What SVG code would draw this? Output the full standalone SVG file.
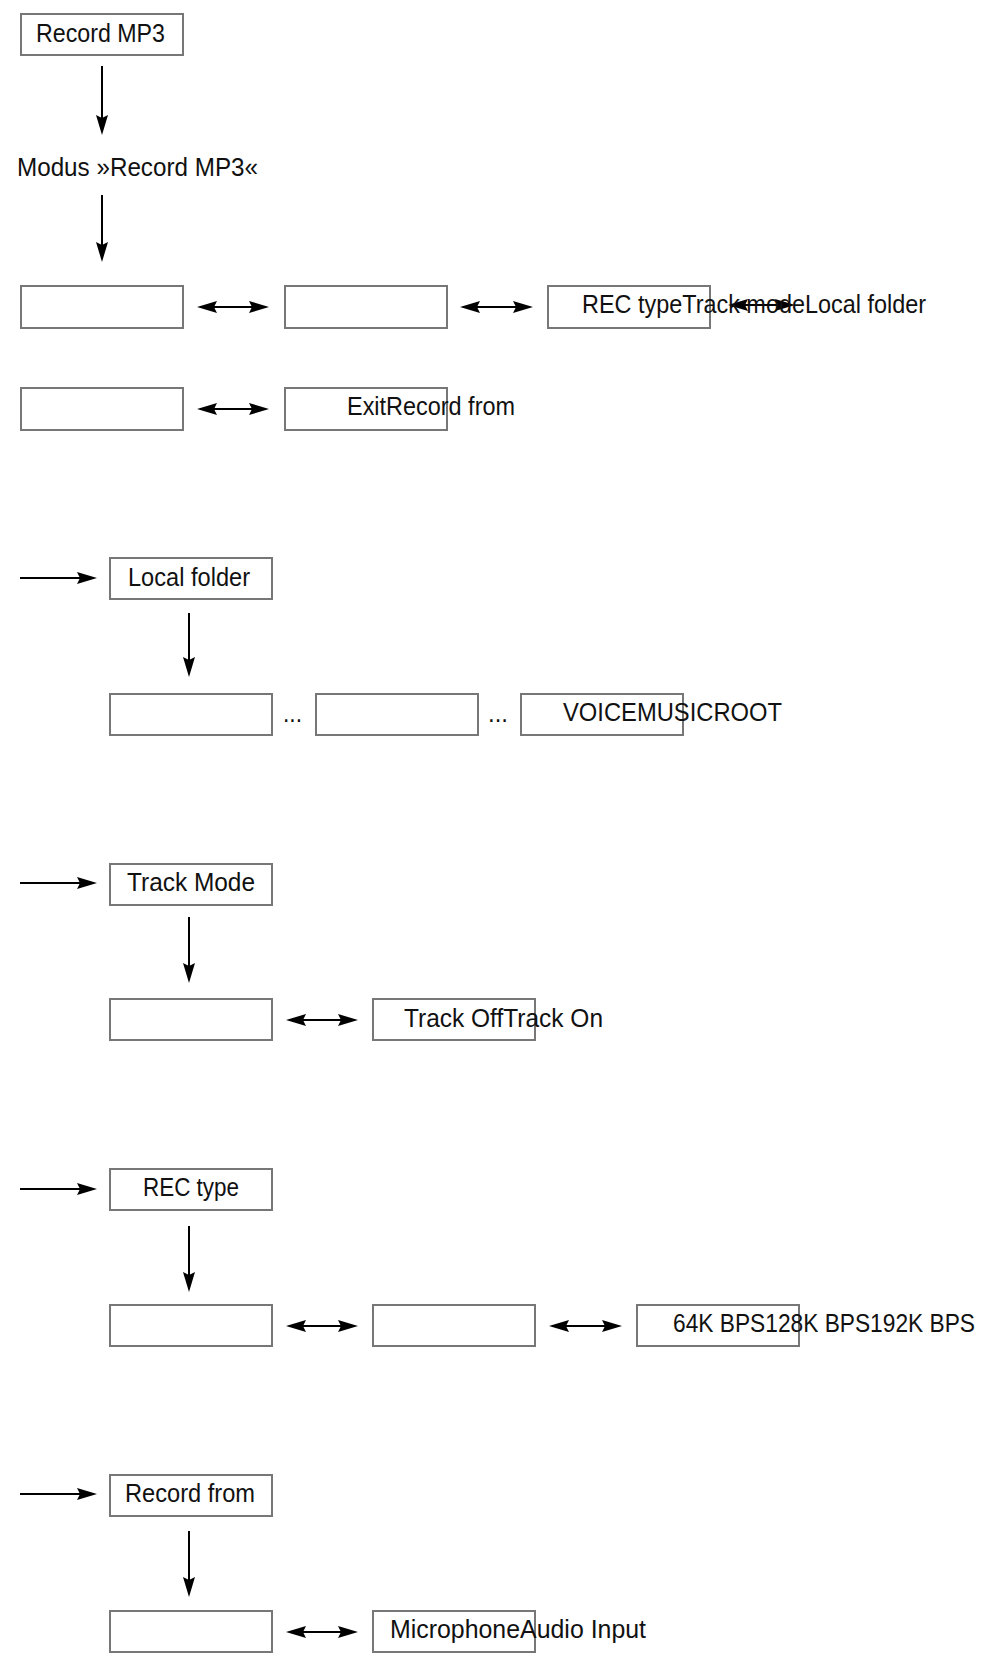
<svg xmlns="http://www.w3.org/2000/svg" width="985" height="1667" viewBox="0 0 985 1667">
<defs>
<style>
.box{fill:#fff;stroke:#777;stroke-width:2}
.t{font-family:"Liberation Sans",Arial,sans-serif;font-size:26px;fill:#111}
.c{stroke:#000;stroke-width:2;fill:none}
.s{marker-end:url(#ah)}
.d{marker-start:url(#ah);marker-end:url(#ah)}
</style>
<marker id="ah" viewBox="0 0 20 12" refX="17" refY="6" markerWidth="20" markerHeight="12" markerUnits="userSpaceOnUse" orient="auto-start-reverse">
<path d="M0,0 L20,6 L0,12 L3,6 Z" fill="#000"/>
</marker>
</defs>
<rect width="985" height="1667" fill="#fff"/>

<g id="connectors">
<line class="c s" x1="102" y1="66" x2="102" y2="132"/>
<line class="c s" x1="102" y1="195" x2="102" y2="259"/>
<line class="c d" x1="200" y1="307" x2="266" y2="307"/>
<line class="c d" x1="463" y1="307" x2="530" y2="307"/>
<line class="c d" x1="731" y1="305" x2="792" y2="305"/>
<line class="c d" x1="200" y1="409" x2="266" y2="409"/>

<line class="c s" x1="20" y1="578" x2="94" y2="578"/>
<line class="c s" x1="189" y1="613" x2="189" y2="674"/>

<line class="c s" x1="20" y1="883" x2="94" y2="883"/>
<line class="c s" x1="189" y1="917" x2="189" y2="980"/>
<line class="c d" x1="289" y1="1020" x2="355" y2="1020"/>

<line class="c s" x1="20" y1="1189" x2="94" y2="1189"/>
<line class="c s" x1="189" y1="1226" x2="189" y2="1289"/>
<line class="c d" x1="289" y1="1326" x2="355" y2="1326"/>
<line class="c d" x1="552" y1="1326" x2="619" y2="1326"/>

<line class="c s" x1="20" y1="1494" x2="94" y2="1494"/>
<line class="c s" x1="189" y1="1531" x2="189" y2="1594"/>
<line class="c d" x1="289" y1="1632" x2="355" y2="1632"/>
</g>

<g id="n-record-mp3">
<rect class="box" x="21" y="14" width="162" height="41"/>
<text class="t" x="36" y="42" textLength="129" lengthAdjust="spacingAndGlyphs">Record MP3</text>
</g>
<g id="n-modus">
<text class="t" x="17" y="176" textLength="241" lengthAdjust="spacingAndGlyphs">Modus »Record MP3«</text>
</g>

<g id="n-r1a"><rect class="box" x="21" y="286" width="162" height="42"/></g>
<g id="n-r1b"><rect class="box" x="285" y="286" width="162" height="42"/></g>
<g id="n-r1c">
<rect class="box" x="548" y="286" width="162" height="42"/>
<text class="t" x="582" y="313" textLength="344" lengthAdjust="spacingAndGlyphs">REC typeTrack modeLocal folder</text>
</g>
<g id="n-r2a"><rect class="box" x="21" y="388" width="162" height="42"/></g>
<g id="n-r2b">
<rect class="box" x="285" y="388" width="162" height="42"/>
<text class="t" x="347" y="415" textLength="168" lengthAdjust="spacingAndGlyphs">ExitRecord from</text>
</g>

<g id="n-local-folder">
<rect class="box" x="110" y="558" width="162" height="41"/>
<text class="t" x="128" y="586" textLength="122" lengthAdjust="spacingAndGlyphs">Local folder</text>
</g>
<g id="n-lf1"><rect class="box" x="110" y="694" width="162" height="41"/></g>
<g id="n-dots1"><text class="t" x="283" y="722" textLength="19" lengthAdjust="spacingAndGlyphs">...</text></g>
<g id="n-lf2"><rect class="box" x="316" y="694" width="162" height="41"/></g>
<g id="n-dots2"><text class="t" x="488" y="722" textLength="20" lengthAdjust="spacingAndGlyphs">...</text></g>
<g id="n-lf3">
<rect class="box" x="521" y="694" width="162" height="41"/>
<text class="t" x="563" y="721" textLength="219" lengthAdjust="spacingAndGlyphs">VOICEMUSICROOT</text>
</g>

<g id="n-track-mode">
<rect class="box" x="110" y="864" width="162" height="41"/>
<text class="t" x="127" y="891" textLength="128" lengthAdjust="spacingAndGlyphs">Track Mode</text>
</g>
<g id="n-tm1"><rect class="box" x="110" y="999" width="162" height="41"/></g>
<g id="n-tm2">
<rect class="box" x="373" y="999" width="162" height="41"/>
<text class="t" x="404" y="1027" textLength="199" lengthAdjust="spacingAndGlyphs">Track OffTrack On</text>
</g>

<g id="n-rec-type">
<rect class="box" x="110" y="1169" width="162" height="41"/>
<text class="t" x="143" y="1196" textLength="96" lengthAdjust="spacingAndGlyphs">REC type</text>
</g>
<g id="n-rt1"><rect class="box" x="110" y="1305" width="162" height="41"/></g>
<g id="n-rt2"><rect class="box" x="373" y="1305" width="162" height="41"/></g>
<g id="n-rt3">
<rect class="box" x="637" y="1305" width="162" height="41"/>
<text class="t" x="673" y="1332" textLength="302" lengthAdjust="spacingAndGlyphs">64K BPS128K BPS192K BPS</text>
</g>

<g id="n-record-from">
<rect class="box" x="110" y="1475" width="162" height="41"/>
<text class="t" x="125" y="1502" textLength="130" lengthAdjust="spacingAndGlyphs">Record from</text>
</g>
<g id="n-rf1"><rect class="box" x="110" y="1611" width="162" height="41"/></g>
<g id="n-rf2">
<rect class="box" x="373" y="1611" width="162" height="41"/>
<text class="t" x="390" y="1638" textLength="256" lengthAdjust="spacingAndGlyphs">MicrophoneAudio Input</text>
</g>
</svg>
